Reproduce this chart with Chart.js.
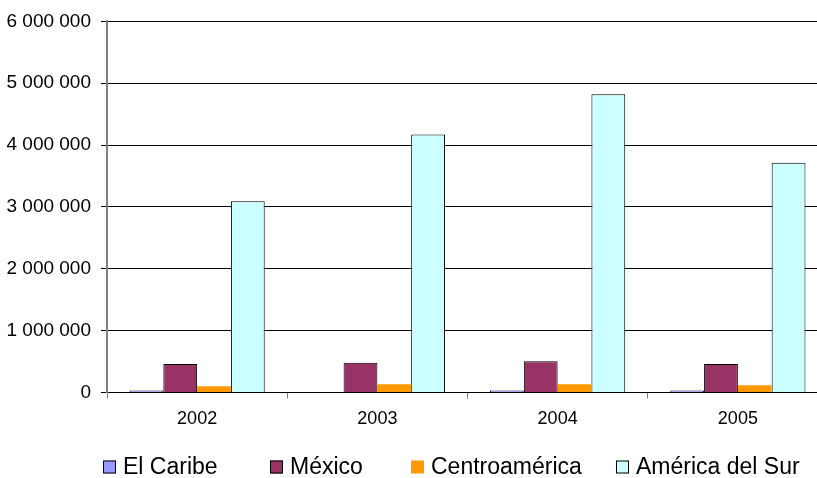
<!DOCTYPE html>
<html>
<head>
<meta charset="utf-8">
<script src="https://cdn.jsdelivr.net/npm/chart.js@4"></script>
<style>
  html, body { margin: 0; padding: 0; background: #fff; overflow: hidden; }
  #wrap { width: 828px; height: 478px; position: relative; }
</style>
</head>
<body>
<div id="wrap"><canvas id="chart"></canvas></div>
<script>
const years = ['2002', '2003', '2004', '2005'];
const elCaribe = [30000, 0, 30000, 30000];
const mexico = [460000, 480000, 505000, 460000];
const centroamerica = [100000, 130000, 130000, 115000];
const americaDelSur = [3090000, 4170000, 4820000, 3715000];
const yTicks = [0, 1000000, 2000000, 3000000, 4000000, 5000000, 6000000];

const FONT = '"Liberation Sans", Arial, sans-serif';

function spaced(v) {
  return String(v).replace(/\B(?=(\d{3})+(?!\d))/g, ' ');
}

function makeSet(label, values, fill, border, width) {
  return {
    label: label,
    data: values,
    backgroundColor: fill,
    borderColor: border,
    borderWidth: width,
    borderSkipped: 'bottom',
    barPercentage: 1,
    categoryPercentage: 0.75
  };
}

// legend drawn in a row under the axis, like the spreadsheet one
const rowLegend = {
  id: 'rowLegend',
  afterDraw(chart, args, opts) {
    const ctx = chart.ctx;
    ctx.save();
    ctx.font = opts.size + 'px ' + FONT;
    ctx.textBaseline = 'middle';
    ctx.textAlign = 'left';
    chart.data.datasets.forEach((ds, i) => {
      const x = opts.xs[i];
      const y = opts.y;
      ctx.fillStyle = ds.backgroundColor;
      ctx.fillRect(x, y - opts.box / 2, opts.box, opts.box);
      if (ds.borderWidth > 0) {
        ctx.strokeStyle = '#000';
        ctx.lineWidth = 1;
        ctx.strokeRect(x + 0.5, y - opts.box / 2 + 0.5, opts.box - 1, opts.box - 1);
      }
      ctx.fillStyle = '#000';
      ctx.fillText(ds.label, x + opts.box + 7, y + 1);
    });
    ctx.restore();
  }
};

Chart.defaults.font.family = FONT;
Chart.defaults.color = '#000';

new Chart(document.getElementById('chart'), {
  type: 'bar',
  data: {
    labels: years,
    datasets: [
      makeSet('El Caribe', elCaribe, '#9999FF', '#000', 1),
      makeSet('México', mexico, '#993366', '#000', 1),
      makeSet('Centroamérica', centroamerica, '#FF9900', '#FF9900', 0),
      makeSet('América del Sur', americaDelSur, '#CCFFFF', '#000', 1)
    ]
  },
  plugins: [rowLegend],
  options: {
    responsive: true,
    maintainAspectRatio: false,
    animation: false,
    layout: { padding: { left: 0, top: 9, right: 0, bottom: 38 } },
    plugins: {
      tooltip: { enabled: false },
      legend: { display: false },
      rowLegend: { xs: [103, 270, 411, 616], y: 467, box: 13, size: 23 }
    },
    scales: {
      x: {
        offset: true,
        grid: { offset: true, drawOnChartArea: false, drawTicks: true, tickLength: 6, color: '#808080' },
        border: { color: '#000', width: 1 },
        ticks: { font: { size: 18 }, padding: 10 }
      },
      y: {
        min: 0,
        max: 6000000,
        afterBuildTicks: function(scale) {
          scale.ticks = yTicks.map(v => ({ value: v }));
        },
        afterFit: function(scale) { scale.width = 107; },
        grid: { color: '#000', lineWidth: 1, tickLength: 6 },
        border: { color: '#808080', width: 2 },
        ticks: {
          font: { size: 19 },
          padding: 10,
          callback: v => spaced(v)
        }
      }
    }
  }
});
</script>
</body>
</html>
